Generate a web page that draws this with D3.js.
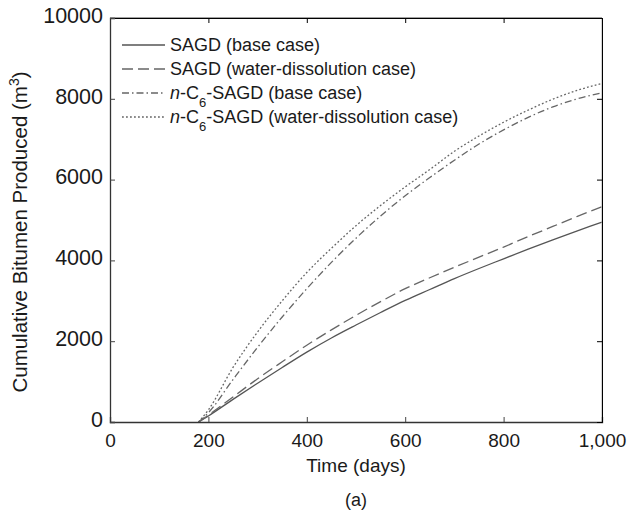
<!DOCTYPE html>
<html>
<head>
<meta charset="utf-8">
<script src="https://cdn.jsdelivr.net/npm/d3@7/dist/d3.min.js"></script>
<style>
  body { margin: 0; background: #fff; }
  text { font-family: "Liberation Sans", Arial, sans-serif; fill: #1a1a1a; }
</style>
</head>
<body>
<script>
// Data (days, cumulative bitumen m3)
const days = [180, 200, 250, 300, 350, 400, 450, 500, 550, 600, 650, 700, 750, 800, 850, 900, 950, 1000];
const sagdBase = [0, 150, 560, 960, 1350, 1730, 2080, 2400, 2710, 3010, 3280, 3550, 3800, 4040, 4280, 4510, 4730, 4950];
const sagdWater = [0, 170, 620, 1070, 1490, 1900, 2280, 2640, 2980, 3300, 3570, 3830, 4080, 4330, 4590, 4840, 5090, 5330];
const hexBase = [0, 230, 1050, 1850, 2600, 3300, 3950, 4550, 5100, 5600, 6050, 6480, 6880, 7230, 7540, 7800, 8000, 8150];
const hexWater = [0, 300, 1350, 2230, 3000, 3700, 4300, 4860, 5360, 5820, 6250, 6700, 7080, 7420, 7720, 7990, 8210, 8380];

const xTicks = [0, 200, 400, 600, 800, 1000];
const yTicks = [0, 2000, 4000, 6000, 8000, 10000];

const series = [
  { label: ["SAGD (base case)"], values: sagdBase, dash: null, color: "#555" },
  { label: ["SAGD (water-dissolution case)"], values: sagdWater, dash: "11,5", color: "#666" },
  { label: ["n", "-C", "6", "-SAGD (base case)"], values: hexBase, dash: "7,3,1.5,3", color: "#666" },
  { label: ["n", "-C", "6", "-SAGD (water-dissolution case)"], values: hexWater, dash: "1.8,2.2", color: "#666" }
];

const W = 627, H = 514;
const margin = { top: 18, right: 25, bottom: 92, left: 110 };
const width = W - margin.left - margin.right;
const height = H - margin.top - margin.bottom;

const svg = d3.select("body").append("svg")
  .attr("width", W)
  .attr("height", H);

const g = svg.append("g")
  .attr("transform", `translate(${margin.left},${margin.top})`);

const x = d3.scaleLinear().domain([0, 1000]).range([0, width]);
const y = d3.scaleLinear().domain([0, 10000]).range([height, 0]);

// Curves
const line = d3.line()
  .x(d => x(d[0]))
  .y(d => y(d[1]))
  .curve(d3.curveMonotoneX);

series.forEach(s => {
  g.append("path")
    .datum(days.map((d, i) => [d, s.values[i]]))
    .attr("d", line)
    .attr("fill", "none")
    .attr("stroke", s.color)
    .attr("stroke-width", 1.3)
    .attr("stroke-dasharray", s.dash);
});

// Frame
g.append("line").attr("x1", width).attr("x2", width).attr("y1", 0).attr("y2", height)
  .attr("stroke", "#aaa").attr("stroke-width", 1);
g.append("line").attr("x1", 0).attr("x2", width).attr("y1", 0).attr("y2", 0)
  .attr("stroke", "#444").attr("stroke-width", 1);

// Axes with inward ticks
const fmtX = d3.format(",");
const xAxis = g.append("g")
  .attr("transform", `translate(0,${height})`)
  .call(d3.axisBottom(x).tickValues(xTicks).tickSize(-5).tickPadding(12).tickFormat(fmtX));
const xTop = g.append("g")
  .call(d3.axisTop(x).tickValues(xTicks).tickSize(-5).tickFormat(""));
const yAxis = g.append("g")
  .call(d3.axisLeft(y).tickValues(yTicks).tickSize(-5).tickPadding(7).tickFormat(d3.format("d")));
const yRight = g.append("g")
  .attr("transform", `translate(${width},0)`)
  .call(d3.axisRight(y).tickValues(yTicks).tickSize(-5).tickFormat(""));

[xAxis, yAxis].forEach(a => {
  a.select(".domain").attr("stroke", "#333").attr("stroke-width", 1.3);
  a.selectAll(".tick line").attr("stroke", "#444");
  a.selectAll("text").attr("fill", "#1a1a1a");
});
xAxis.selectAll("text").style("font-size", "19px");
yAxis.selectAll("text").style("font-size", "21.5px").attr("dy", "0.2em");

// Axis titles
svg.append("text")
  .attr("x", margin.left + width / 2)
  .attr("y", 472)
  .attr("text-anchor", "middle")
  .style("font-size", "19px")
  .text("Time (days)");

svg.append("text")
  .attr("x", margin.left + width / 2)
  .attr("y", 506)
  .attr("text-anchor", "middle")
  .style("font-size", "18px")
  .text("(a)");

const yLab = svg.append("text")
  .attr("transform", "translate(27,232) rotate(-90)")
  .attr("text-anchor", "middle")
  .style("font-size", "20.5px");
yLab.append("tspan").text("Cumulative Bitumen Produced (m");
yLab.append("tspan").attr("baseline-shift", "super").style("font-size", "14px").text("3");
yLab.append("tspan").text(")");

// Legend
const legend = svg.append("g").attr("transform", "translate(122,45)");
series.forEach((s, i) => {
  const row = legend.append("g").attr("transform", `translate(0,${i * 24})`);
  row.append("line")
    .attr("x1", 0).attr("x2", 43)
    .attr("stroke", s.color)
    .attr("stroke-width", 1.3)
    .attr("stroke-dasharray", s.dash);
  const t = row.append("text")
    .attr("x", 48)
    .attr("dy", "0.35em")
    .style("font-size", "18px");
  if (s.label.length === 1) {
    t.text(s.label[0]);
  } else {
    t.append("tspan").style("font-style", "italic").text(s.label[0]);
    t.append("tspan").text(s.label[1]);
    t.append("tspan").attr("baseline-shift", "sub").style("font-size", "13px").text(s.label[2]);
    t.append("tspan").text(s.label[3]);
  }
});
</script>
</body>
</html>
